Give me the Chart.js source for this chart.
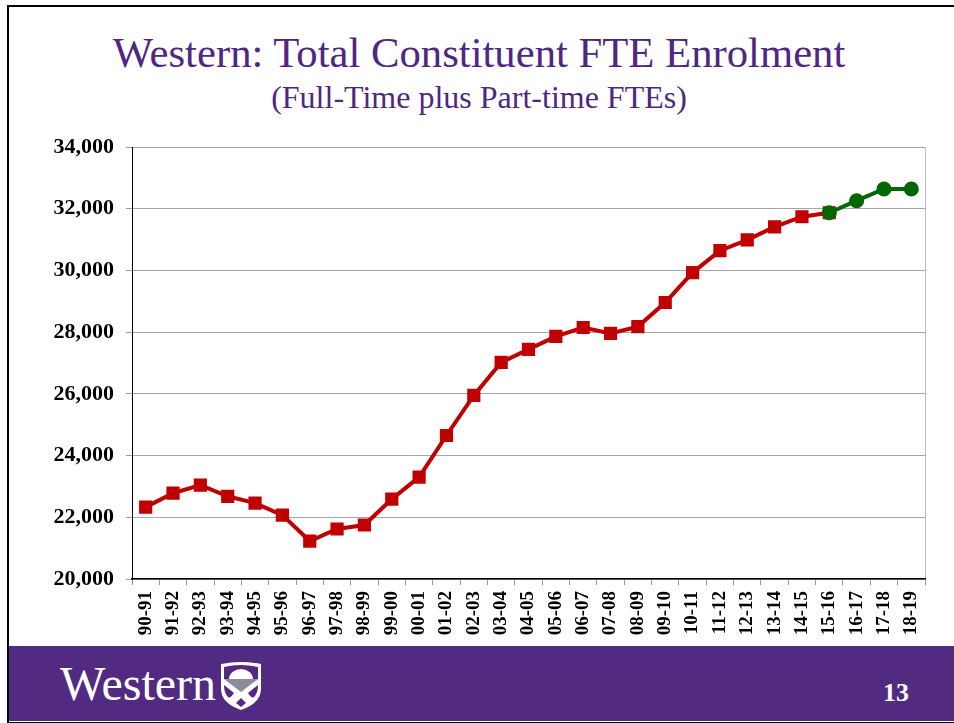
<!DOCTYPE html>
<html>
<head>
<meta charset="utf-8">
<title>Western: Total Constituent FTE Enrolment</title>
<script src="https://cdn.jsdelivr.net/npm/chart.js@4/dist/chart.umd.min.js"></script>
<style>
    html, body { margin: 0; padding: 0; background: #fff; overflow: hidden; }
    #slide { position: relative; width: 954px; height: 723px; font-family: "Liberation Serif", serif; overflow: hidden; }
    #frame { position: absolute; left: 7px; top: 5px; width: 960px; height: 715px; border: 2px solid #000; box-sizing: content-box; }
    #title, #subtitle { position: absolute; left: 0; width: 958px; text-align: center; color: #4F2683; white-space: nowrap; }
    #title { top: 28px; font-size: 42.7px; line-height: 50px; }
    #subtitle { top: 78px; font-size: 32px; line-height: 38px; }
    #chartBox { position: absolute; left: 0; top: 0; width: 954px; height: 646px; }
    #footer { position: absolute; left: 9px; top: 646px; width: 945px; height: 75px; background: #522A82; }
    #logoText { position: absolute; left: 51px; top: 12px; font-size: 48px; line-height: 52px; color: #fff; }
    #shield { position: absolute; left: 211px; top: 15px; }
    #pageNum { position: absolute; left: 874px; top: 31px; font-size: 26px; line-height: 32px; font-weight: bold; color: #fff; }
</style>
</head>
<body>
<div id="slide">
    <div id="frame"></div>
    <div id="title">Western: Total Constituent FTE Enrolment</div>
    <div id="subtitle">(Full-Time plus Part-time FTEs)</div>
    <div id="chartBox"><canvas id="fteChart"></canvas></div>
    <div id="footer">
        <div id="logoText">Western</div>
        <!-- simplified crest -->
        <svg id="shield" width="42" height="50" viewBox="0 0 42 50">
            <path d="M1 3 Q21 -1 41 3 V28 Q41 42 21 49 Q1 42 1 28 Z" fill="#fff"/>
            <path d="M4 6 Q21 2 38 6 V18 H4 Z" fill="#522A82"/>
            <path d="M9 18 A12 10 0 0 1 33 18 Z" fill="#fff"/>
            <path d="M4 18 H38 L21 31 Z" fill="#8C8C9A"/>
            <path d="M4 19 L21 32 L38 19 V25 L21 38 L4 25 Z" fill="#fff"/>
            <path d="M4 24 L14 32 Q10 38 8 36 Q4 32 4 24 Z" fill="#522A82"/>
            <path d="M38 24 L28 32 Q32 38 34 36 Q38 32 38 24 Z" fill="#522A82"/>
            <path d="M21 37 L26 42 L21 46 L16 42 Z" fill="#522A82"/>
        </svg>
        <div id="pageNum">13</div>
    </div>
</div>
<script>
// Academic years on the x axis
const years = ['90-91', '91-92', '92-93', '93-94', '94-95', '95-96', '96-97', '97-98', '98-99', '99-00',
    '00-01', '01-02', '02-03', '03-04', '04-05', '05-06', '06-07', '07-08', '08-09', '09-10',
    '10-11', '11-12', '12-13', '13-14', '14-15', '15-16', '16-17', '17-18', '18-19'];

// Actual enrolment
const actualFte = [22330, 22780, 23040, 22680, 22460, 22070, 21230, 21620, 21750, 22590,
    23300, 24650, 25950, 27020, 27440, 27860, 28150, 27960, 28180, 28960,
    29930, 30640, 30990, 31410, 31740, 31870, null, null, null];

// Projected enrolment
const projectedFte = [null, null, null, null, null, null, null, null, null, null,
    null, null, null, null, null, null, null, null, null, null,
    null, null, null, null, null, 31870, 32260, 32640, 32640];

const axisFont = { family: '"Liberation Serif", serif', weight: 'bold' };

new Chart(document.getElementById('fteChart').getContext('2d'), {
    type: 'line',
    data: {
        labels: years,
        datasets: [
            {
                label: 'Projected',
                data: projectedFte,
                borderColor: '#006600',
                backgroundColor: '#006600',
                borderWidth: 4,
                pointStyle: 'circle',
                pointRadius: 5.5,
                order: 1
            },
            {
                label: 'Actual',
                data: actualFte,
                borderColor: '#C00000',
                backgroundColor: '#C00000',
                borderWidth: 4,
                pointStyle: 'rect',
                pointRadius: 6.5,
                order: 2
            }
        ]
    },
    options: {
        responsive: true,
        maintainAspectRatio: false,
        animation: false,
        layout: { padding: { top: 147, right: 29, left: 0, bottom: 0 } },
        plugins: {
            legend: { display: false },
            title: { display: false },
            tooltip: { enabled: false }
        },
        scales: {
            x: {
                offset: true,
                afterFit(scale) { scale.height = 67; },
                border: { color: '#000', width: 1.5 },
                grid: {
                    offset: true,
                    // the closing line on the right has no tick, so it gets the scale context
                    color: ctx => ctx.type === 'scale' ? '#BFBFBF' : 'transparent',
                    tickColor: '#999',
                    tickLength: 6
                },
                ticks: {
                    color: '#000',
                    font: { ...axisFont, size: 19 },
                    minRotation: 90,
                    maxRotation: 90,
                    autoSkip: false,
                    padding: 6
                }
            },
            y: {
                min: 20000,
                max: 34000,
                afterFit(scale) { scale.width = 132; },
                border: { color: '#000', width: 1 },
                grid: { color: '#A6A6A6', tickColor: '#999', tickLength: 6 },
                ticks: {
                    stepSize: 2000,
                    color: '#000',
                    font: { ...axisFont, size: 22 },
                    padding: 12,
                    callback: value => value.toLocaleString('en-US')
                }
            }
        }
    }
});
</script>
</body>
</html>
